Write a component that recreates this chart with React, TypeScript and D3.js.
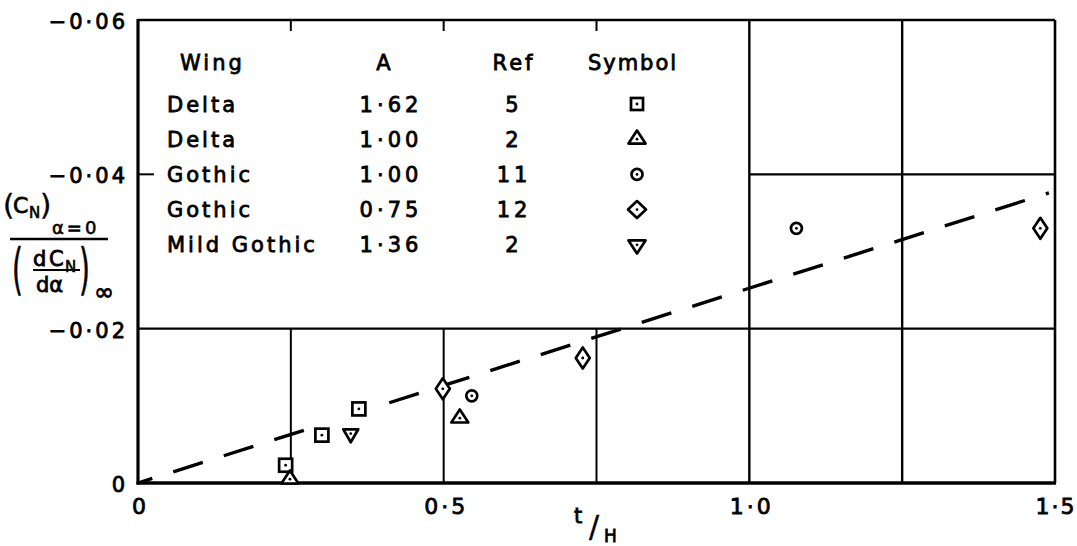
import React from "react";
import * as d3 from "d3";

// ---------- data ----------
const xTickValues = [0, 0.5, 1.0, 1.5];
const xTickLabels = ["0", "0·5", "1·0", "1·5"];
const yTickValues = [0, -0.02, -0.04, -0.06];
const yTickLabels = ["0", "−0·02", "−0·04", "−0·06"];
const topTickValues = [0.25, 0.5, 0.75];
const leftTickValues = [-0.04];

// partial grid lines [x, yFrom, yTo] and [y, xFrom, xTo]
const verticalGrid: [number, number, number][] = [
  [0.25, 0, -0.02],
  [0.5, 0, -0.02],
  [0.75, 0, -0.02],
  [1.0, 0, -0.06],
  [1.25, 0, -0.06],
];
const horizontalGrid: [number, number, number][] = [
  [-0.02, 0, 1.5],
  [-0.04, 1.0, 1.5],
];

// series points [t/H, value]
const deltaA162: [number, number][] = [
  [0.2415, -0.0023],
  [0.3008, -0.0062],
  [0.3613, -0.0096],
];
const deltaA100: [number, number][] = [
  [0.2485, -0.0005],
  [0.5264, -0.0084],
];
const gothicA100: [number, number][] = [
  [0.546, -0.0113],
  [1.077, -0.033],
];
const gothicA075: [number, number][] = [
  [0.4986, -0.0122],
  [0.7275, -0.0162],
  [1.476, -0.033],
];
const mildGothicA136: [number, number][] = [[0.348, -0.0064]];

// dashed reference line, drawn in two pieces (broken around the symbols)
const dashedLinePieces: [number, number][][] = [
  [
    [0, 0],
    [0.294, -0.0074],
  ],
  [
    [0.411, -0.0104],
    [1.49, -0.0376],
  ],
];

// legend table
const legendHeaders = ["Wing", "A", "Ref", "Symbol"];
const wingNames = ["Delta", "Delta", "Gothic", "Gothic", "Mild Gothic"];
const aspectRatios = ["1·62", "1·00", "1·00", "0·75", "1·36"];
const refNumbers = ["5", "2", "11", "12", "2"];
const symbolKinds = ["square", "triangle", "circle", "diamond", "invTriangle"];

const seriesList = [
  { kind: "square", points: deltaA162 },
  { kind: "triangle", points: deltaA100 },
  { kind: "circle", points: gothicA100 },
  { kind: "diamond", points: gothicA075 },
  { kind: "invTriangle", points: mildGothicA136 },
];

// ---------- layout ----------
const W = 1077;
const H = 546;
const FONT = "'DejaVu Sans', sans-serif";
const INK = "#000";
const TEXT_STROKE = 0.8;

const x = d3.scaleLinear().domain([0, 1.5]).range([138, 1055]);
const y = d3.scaleLinear().domain([0, -0.06]).range([483, 20]);

function Marker({ kind, cx, cy, big }: { kind: string; cx: number; cy: number; big: boolean }) {
  const sw = 2.7;
  let shape: React.ReactNode = null;
  if (kind === "square") {
    const s = big ? 13 : 12;
    shape = <rect x={-s / 2} y={-s / 2} width={s} height={s} fill="#fff" stroke={INK} strokeWidth={sw} />;
  } else if (kind === "triangle") {
    const w = 17, h = 13;
    shape = (
      <path d={`M0,${(-h * 2) / 3}L${w / 2},${h / 3}L${-w / 2},${h / 3}Z`} fill="#fff" stroke={INK} strokeWidth={sw} strokeLinejoin="round" />
    );
  } else if (kind === "invTriangle") {
    const w = big ? 15 : 17, h = 13;
    shape = (
      <path d={`M0,${(h * 2) / 3}L${w / 2},${-h / 3}L${-w / 2},${-h / 3}Z`} fill="#fff" stroke={INK} strokeWidth={sw} strokeLinejoin="round" />
    );
  } else if (kind === "circle") {
    shape = <circle r={5.5} fill="#fff" stroke={INK} strokeWidth={sw} />;
  } else if (kind === "diamond") {
    const w = big ? 14 : 18, h = big ? 21 : 17;
    shape = (
      <path d={`M0,${-h / 2}L${w / 2},0L0,${h / 2}L${-w / 2},0Z`} fill="#fff" stroke={INK} strokeWidth={sw} strokeLinejoin="round" />
    );
  }
  return (
    <g transform={`translate(${cx},${cy})`}>
      {shape}
      <circle r={1.4} fill={INK} />
    </g>
  );
}

export default function App() {
  const line = d3
    .line<[number, number]>()
    .x((d) => x(d[0]))
    .y((d) => y(d[1]));

  const legendBaseline0 = 111.5;
  const legendRowStep = 35.2;
  const colWing = 167;
  const colA = 391;
  const colRef = 514;
  const colSym = 637;

  const tickFont = 22;
  const ls = 3;

  return (
    <svg
      width={W}
      height={H}
      viewBox={`0 0 ${W} ${H}`}
      style={{ position: "absolute", left: 0, top: 0, background: "#fff" }}
      fontFamily={FONT}
    >
      <rect x={0} y={0} width={W} height={H} fill="#fff" />

      {/* grid */}
      {verticalGrid.map(([gx, a, b], i) => (
        <line key={`vg${i}`} x1={x(gx)} x2={x(gx)} y1={y(a)} y2={y(b)} stroke={INK} strokeWidth={gx >= 1 ? 2.4 : 2} />
      ))}
      {horizontalGrid.map(([gy, a, b], i) => (
        <line key={`hg${i}`} x1={x(a)} x2={x(b)} y1={y(gy)} y2={y(gy)} stroke={INK} strokeWidth={2.4} />
      ))}

      {/* ticks */}
      {topTickValues.map((t, i) => (
        <line key={`tt${i}`} x1={x(t)} x2={x(t)} y1={y(-0.06)} y2={y(-0.06) + 11} stroke={INK} strokeWidth={2} />
      ))}
      {leftTickValues.map((t, i) => (
        <line key={`lt${i}`} x1={x(0)} x2={x(0) + 16} y1={y(t)} y2={y(t)} stroke={INK} strokeWidth={2} />
      ))}

      {/* frame */}
      <line x1={x(0)} x2={x(1.5)} y1={y(-0.06)} y2={y(-0.06)} stroke={INK} strokeWidth={2.6} />
      <line x1={x(1.5)} x2={x(1.5)} y1={y(-0.06)} y2={y(0)} stroke={INK} strokeWidth={2.6} />
      <line x1={x(0)} x2={x(0)} y1={y(-0.06) - 1} y2={y(0) + 1.5} stroke={INK} strokeWidth={3.2} />
      <line x1={x(0) - 1.5} x2={x(1.5) + 1} y1={y(0)} y2={y(0)} stroke={INK} strokeWidth={3.4} />

      {/* dashed line */}
      {dashedLinePieces.map((p, i) => (
        <path
          key={`dl${i}`}
          d={line(p) || ""}
          fill="none"
          stroke={INK}
          strokeWidth={3.4}
          strokeDasharray="31 22"
          strokeDashoffset={i === 0 ? 16 : 0}
        />
      ))}

      {/* data markers */}
      {seriesList.map((s) =>
        s.points.map((p, j) => <Marker key={`${s.kind}${j}`} kind={s.kind} cx={x(p[0])} cy={y(p[1])} big={true} />)
      )}

      <g fill={INK} stroke={INK} strokeWidth={TEXT_STROKE}>
        {/* y tick labels */}
        {yTickValues.map((v, i) => (
          <text
            key={`yl${i}`}
            x={125 + ls}
            y={y(v) + 9}
            textAnchor="end"
            fontSize={21}
            letterSpacing={ls}
          >
            {yTickLabels[i]}
          </text>
        ))}

        {/* x tick labels */}
        {xTickValues.map((v, i) => (
          <text
            key={`xl${i}`}
            x={x(v) + 1 + (i === xTickValues.length - 1 ? 0 : ls / 2)}
            y={514}
            textAnchor="middle"
            fontSize={tickFont}
            letterSpacing={i === xTickValues.length - 1 ? 2 : ls}
          >
            {xTickLabels[i]}
          </text>
        ))}

        {/* x axis title t/H */}
        <text x={574} y={523} fontSize={21}>t</text>
        <text x={589} y={537} fontSize={30} strokeWidth={0.4}>/</text>
        <text x={604} y={542} fontSize={17}>H</text>

        {/* y axis title */}
        <text x={3} y={215} fontSize={29} strokeWidth={0.4}>(</text>
        <text x={13} y={213} fontSize={22}>C</text>
        <text x={29} y={218} fontSize={15} strokeWidth={0.6}>N</text>
        <text x={40} y={215} fontSize={29} strokeWidth={0.4}>)</text>
        <text x={52} y={234} fontSize={18} letterSpacing={3} strokeWidth={0.6}>α=0</text>
        <text transform="translate(12,288) scale(1,1.95)" fontSize={28} strokeWidth={0.3}>(</text>
        <text x={33} y={266} fontSize={21}>d</text>
        <text x={49} y={266} fontSize={21}>C</text>
        <text x={65} y={272} fontSize={15} strokeWidth={0.6}>N</text>
        <text x={36} y={292} fontSize={21}>dα</text>
        <text transform="translate(79,288) scale(1,1.95)" fontSize={28} strokeWidth={0.3}>)</text>
        <text x={94} y={300} fontSize={24}>∞</text>

        {/* legend table */}
        <g fontSize={21} letterSpacing={3}>
          <text x={180} y={70}>{legendHeaders[0]}</text>
          <text x={385} y={70} textAnchor="middle">{legendHeaders[1]}</text>
          <text x={514} y={70} textAnchor="middle">{legendHeaders[2]}</text>
          <text x={633} y={70} textAnchor="middle" letterSpacing={2}>{legendHeaders[3]}</text>
          {wingNames.map((w, i) => (
            <text key={`w${i}`} x={colWing} y={legendBaseline0 + i * legendRowStep}>
              {w}
            </text>
          ))}
          {aspectRatios.map((a, i) => (
            <text key={`a${i}`} x={colA} y={legendBaseline0 + i * legendRowStep} textAnchor="middle" letterSpacing={4}>
              {a}
            </text>
          ))}
          {refNumbers.map((r, i) => (
            <text key={`r${i}`} x={colRef} y={legendBaseline0 + i * legendRowStep} textAnchor="middle" letterSpacing={4}>
              {r}
            </text>
          ))}
        </g>
      </g>
      <line x1={10} x2={108} y1={239} y2={239} stroke={INK} strokeWidth={2.6} />
      <line x1={33} x2={80} y1={270} y2={270} stroke={INK} strokeWidth={2.2} />

      {symbolKinds.map((k, i) => (
        <Marker key={`ls${i}`} kind={k} cx={colSym} cy={legendBaseline0 + i * legendRowStep - 7.5} big={false} />
      ))}
    </svg>
  );
}
